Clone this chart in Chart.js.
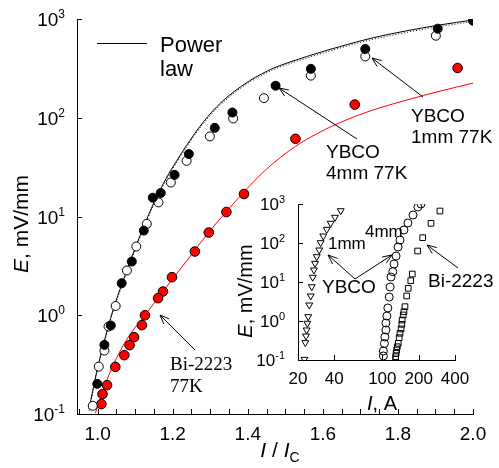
<!DOCTYPE html>
<html>
<head>
<meta charset="utf-8">
<script src="https://cdn.jsdelivr.net/npm/chart.js@4.4.0/dist/chart.umd.min.js"></script>
<style>
  html, body { margin: 0; padding: 0; background: #fff; }
  #wrap { position: relative; width: 499px; height: 468px; }
  #main { position: absolute; left: 0; top: 0; }
  #inset { position: absolute; left: 230px; top: 188px; }
</style>
</head>
<body>
<div id="wrap">
  <canvas id="main" width="499" height="468"></canvas>
  <canvas id="inset" width="269" height="230"></canvas>
</div>
<script>
// ---- main plot data (E vs I/Ic) ----
const ybco4mmX = [2.0, 1.906, 1.713, 1.568, 1.474, 1.359, 1.312, 1.243, 1.205, 1.168, 1.147, 1.123, 1.091, 1.064, 1.035, 1.018, 0.999];
const ybco4mmE = [961, 798, 497, 313, 211, 113, 79, 42.9, 26.4, 17.3, 15.5, 7.2, 3.5, 2.11, 0.787, 0.501, 0.202];

const ybco1mmX = [1.901, 1.713, 1.568, 1.443, 1.361, 1.299, 1.237, 1.195, 1.162, 1.131, 1.103, 1.078, 1.048, 1.029, 1.018, 1.003, 0.987];
const ybco1mmE = [677, 418, 267, 158, 98.4, 64.7, 36.6, 22.1, 13.9, 8.43, 4.97, 2.84, 1.24, 0.769, 0.439, 0.302, 0.121];

const bi2223X = [1.959, 1.685, 1.527, 1.390, 1.343, 1.296, 1.259, 1.198, 1.174, 1.161, 1.126, 1.118, 1.097, 1.085, 1.071, 1.047, 1.025, 1.013, 1.010];
const bi2223E = [319, 136, 61.2, 16.9, 11.1, 6.88, 4.42, 2.43, 1.74, 1.49, 1.00, 0.794, 0.600, 0.498, 0.394, 0.300, 0.196, 0.159, 0.126];

// power law fits
const powerYbcoX = [0.977, 0.997, 1.014, 1.041, 1.067, 1.094, 1.125, 1.15, 1.183, 1.21, 1.237, 1.272, 1.317, 1.361, 1.405, 1.436, 1.467, 1.557, 1.645, 1.734, 1.823, 1.912, 2.0];
const powerYbcoE = [0.112, 0.263, 0.484, 1.13, 2.19, 4.17, 8.32, 13.8, 24.5, 36.3, 52.5, 81.3, 129, 181, 237, 277, 316, 417, 525, 646, 759, 871, 977];
const powerYbco2E = [0.108, 0.254, 0.467, 1.09, 2.11, 4.02, 8.03, 13.3, 23.6, 35.0, 50.7, 78.5, 124, 175, 229, 267, 305, 402, 507, 623, 732, 840, 943];

const powerBiX = [0.994, 1.032, 1.077, 1.130, 1.183, 1.237, 1.296, 1.343, 1.390, 1.450, 1.527, 1.585, 1.645, 1.734, 1.823, 1.912, 2.0];
const powerBiE = [0.102, 0.259, 0.564, 1.047, 1.93, 3.55, 6.92, 11.2, 17.8, 30.2, 51.3, 69.2, 89.1, 120, 151, 186, 224];

const mainXTicks = [1.0, 1.2, 1.4, 1.6, 1.8, 2.0];
const decadeTicks = [0.1, 1, 10, 100, 1000];

// ---- inset data (E vs I, A) ----
const inset1mmI = [45.2, 40.5, 37.3, 34.6, 32.4, 30.8, 30.0, 28.6, 27.7, 27.1, 26.5, 26.0, 25.5, 24.8, 24.3, 23.9, 23.6, 23.3, 23.0, 22.6];
const inset1mmE = [673, 456, 320, 224, 151, 102, 66.2, 44.6, 30.1, 20.3, 13.2, 7.57, 4.38, 2.57, 1.29, 0.873, 0.588, 0.412, 0.278, 0.104];

const inset4mmI = [209, 197, 179.5, 163, 151, 140, 135, 130, 125, 122, 118, 116, 114, 111, 109, 107, 107, 105, 104, 102, 102];
const inset4mmE = [1000, 838, 522, 326, 215, 119, 78.9, 46.4, 28.9, 18.4, 13.4, 7.44, 4.12, 2.16, 1.34, 0.889, 0.588, 0.389, 0.265, 0.170, 0.127];

const insetBiI = [300, 253, 216, 196, 177, 172, 164, 159, 154, 151, 149, 146, 145, 143, 140, 138, 135.5, 133, 131.5, 130, 129, 129];
const insetBiE = [662, 320, 137, 62.4, 16.0, 10.8, 6.89, 4.38, 2.33, 1.73, 1.43, 1.06, 0.823, 0.624, 0.484, 0.373, 0.268, 0.219, 0.180, 0.149, 0.122, 0.104];

const insetXTicks = [20, 40, 100, 200, 400];

const SANS = '"Liberation Sans", Arial, sans-serif';
const SERIF = '"Liberation Serif", "Times New Roman", serif';

function pts(xs, ys) {
  return xs.map((x, i) => ({ x: x, y: ys[i] }));
}

function richText(ctx, parts, x, y, align) {
  let w = 0;
  parts.forEach(p => { ctx.font = p[1]; w += ctx.measureText(p[0]).width; });
  let cx = align === 'center' ? x - w / 2 : (align === 'right' ? x - w : x);
  ctx.textAlign = 'left';
  ctx.textBaseline = 'alphabetic';
  parts.forEach(p => {
    ctx.font = p[1];
    ctx.fillText(p[0], cx, y + (p[2] || 0));
    cx += ctx.measureText(p[0]).width;
  });
}

function arrow(ctx, x1, y1, x2, y2) {
  const a = Math.atan2(y2 - y1, x2 - x1);
  const L = 10, s = 0.38;
  ctx.beginPath();
  ctx.moveTo(x1, y1); ctx.lineTo(x2, y2);
  ctx.moveTo(x2 - L * Math.cos(a - s), y2 - L * Math.sin(a - s));
  ctx.lineTo(x2, y2);
  ctx.lineTo(x2 - L * Math.cos(a + s), y2 - L * Math.sin(a + s));
  ctx.stroke();
}

function decadeLabel(ctx, v, x, y, big, small, rise) {
  const e = Math.round(Math.log10(v));
  richText(ctx, [['10', big + 'px ' + SANS, 0], [String(e), small + 'px ' + SANS, -rise]], x, y, 'right');
}

const mainDecor = {
  id: 'mainDecor',
  afterDraw(chart) {
    const ctx = chart.ctx;
    const xs = chart.scales.x, ys = chart.scales.y;
    const area = chart.chartArea;
    ctx.save();
    ctx.strokeStyle = '#000';
    ctx.fillStyle = '#000';
    ctx.lineWidth = 1;
    // inward ticks
    ctx.beginPath();
    for (let k = 19; k <= 40; k++) {
      const px = Math.round(xs.getPixelForValue(k * 0.05)) + 0.5;
      ctx.moveTo(px, area.bottom); ctx.lineTo(px, area.bottom - 5);
    }
    decadeTicks.forEach(v => {
      const py = Math.round(ys.getPixelForValue(v)) + 0.5;
      ctx.moveTo(area.left, py); ctx.lineTo(area.left + 5, py);
    });
    ctx.stroke();
    // y tick labels
    decadeTicks.forEach(v => {
      decadeLabel(ctx, v, area.left - 12, ys.getPixelForValue(v) + 7, 19, 12, 8);
    });
    // axis titles
    ctx.save();
    ctx.translate(28, 224);
    ctx.rotate(-Math.PI / 2);
    richText(ctx, [['E', 'italic 21px ' + SANS], [', mV/mm', '21px ' + SANS]], 0, 0, 'center');
    ctx.restore();
    richText(ctx, [['I', 'italic 21px ' + SANS], [' / ', '21px ' + SANS], ['I', 'italic 21px ' + SANS], ['C', '14px ' + SANS, 5]], 280, 457, 'center');
    // legend
    ctx.beginPath();
    ctx.moveTo(97, 43.5); ctx.lineTo(147, 43.5);
    ctx.stroke();
    ctx.font = '22px ' + SANS;
    ctx.textAlign = 'left';
    ctx.fillText('Power', 160, 52);
    ctx.fillText('law', 160, 76);
    // annotations
    ctx.font = '19px ' + SANS;
    ctx.fillText('YBCO', 326, 158);
    ctx.fillText('4mm 77K', 326, 179);
    ctx.fillText('YBCO', 411, 122);
    ctx.fillText('1mm 77K', 411, 143);
    ctx.font = '19px ' + SERIF;
    ctx.fillText('Bi-2223', 170, 370);
    ctx.fillText('77K', 170, 392);
    arrow(ctx, 357, 139, 279, 88);
    arrow(ctx, 423, 97, 372, 58);
    arrow(ctx, 195, 350, 160, 315);
    ctx.restore();
  }
};

const insetDecor = {
  id: 'insetDecor',
  afterDraw(chart) {
    const ctx = chart.ctx;
    const xs = chart.scales.x, ys = chart.scales.y;
    const area = chart.chartArea;
    ctx.save();
    ctx.strokeStyle = '#000';
    ctx.fillStyle = '#000';
    ctx.lineWidth = 1;
    ctx.beginPath();
    insetXTicks.forEach(v => {
      const px = Math.round(xs.getPixelForValue(v)) + 0.5;
      ctx.moveTo(px, area.bottom); ctx.lineTo(px, area.bottom - 5);
    });
    decadeTicks.forEach(v => {
      const py = Math.round(ys.getPixelForValue(v)) + 0.5;
      ctx.moveTo(area.left, py); ctx.lineTo(area.left + 5, py);
    });
    ctx.stroke();
    decadeTicks.forEach(v => {
      decadeLabel(ctx, v, area.left - 13, ys.getPixelForValue(v) + 6, 17, 11, 7);
    });
    // offsets: canvas origin is (230,188) on the page
    ctx.save();
    ctx.translate(252 - 230, 291 - 188);
    ctx.rotate(-Math.PI / 2);
    richText(ctx, [['E', 'italic 20px ' + SANS], [', mV/mm', '20px ' + SANS]], 0, 0, 'center');
    ctx.restore();
    richText(ctx, [['I', 'italic 20px ' + SANS], [', A', '20px ' + SANS]], 382 - 230, 410 - 188, 'center');
    ctx.font = '17px ' + SANS;
    ctx.textAlign = 'left';
    ctx.fillText('1mm', 328 - 230, 249 - 188);
    ctx.fillText('4mm', 365 - 230, 237 - 188);
    ctx.font = '19px ' + SANS;
    ctx.fillText('YBCO', 322 - 230, 293 - 188);
    ctx.fillText('Bi-2223', 428 - 230, 287 - 188);
    arrow(ctx, 355 - 230, 279 - 188, 328 - 230, 255 - 188);
    arrow(ctx, 355 - 230, 279 - 188, 392 - 230, 255 - 188);
    arrow(ctx, 458 - 230, 268 - 188, 427 - 230, 245 - 188);
    ctx.restore();
  }
};

const mainChart = new Chart(document.getElementById('main'), {
  type: 'scatter',
  data: {
    datasets: [
      { label: 'YBCO 4mm', data: pts(ybco4mmX, ybco4mmE), pointRadius: 4.5, backgroundColor: '#000', borderColor: '#000', borderWidth: 1 },
      { label: 'YBCO 1mm', data: pts(ybco1mmX, ybco1mmE), pointRadius: 4.5, backgroundColor: '#fff', borderColor: '#000', borderWidth: 1 },
      { label: 'Bi-2223', data: pts(bi2223X, bi2223E), pointRadius: 4.8, backgroundColor: '#ff0000', borderColor: '#000', borderWidth: 1 },
      { label: 'fit', data: pts(powerYbcoX, powerYbcoE), showLine: true, pointRadius: 0, borderColor: '#000', borderWidth: 1, cubicInterpolationMode: 'monotone' },
      { label: 'fit2', data: pts(powerYbcoX, powerYbco2E), showLine: true, pointRadius: 0, borderColor: '#000', borderWidth: 1, borderDash: [1, 2], cubicInterpolationMode: 'monotone' },
      { label: 'fit Bi', data: pts(powerBiX, powerBiE), showLine: true, pointRadius: 0, borderColor: '#ff0000', borderWidth: 1, cubicInterpolationMode: 'monotone' }
    ]
  },
  options: {
    responsive: false,
    animation: false,
    events: [],
    layout: { padding: { left: 0, top: 19, right: 26, bottom: 0 } },
    plugins: { legend: { display: false }, tooltip: { enabled: false } },
    scales: {
      x: {
        type: 'linear', min: 0.945, max: 2.0,
        afterBuildTicks: s => { s.ticks = mainXTicks.map(v => ({ value: v })); },
        afterFit: s => { s.height = 54; },
        grid: { display: false, drawTicks: false },
        border: { display: true, color: '#000', width: 1 },
        ticks: { color: '#000', font: { family: SANS, size: 19 }, padding: 9, maxRotation: 0, callback: v => Number(v).toFixed(1) }
      },
      y: {
        type: 'logarithmic', min: 0.1, max: 1000,
        afterBuildTicks: s => { s.ticks = decadeTicks.map(v => ({ value: v })); },
        afterFit: s => { s.width = 77; },
        grid: { display: false, drawTicks: false },
        border: { display: true, color: '#000', width: 1 },
        ticks: { display: false }
      }
    }
  },
  plugins: [mainDecor]
});

const insetChart = new Chart(document.getElementById('inset'), {
  type: 'scatter',
  data: {
    datasets: [
      { label: '1mm', data: pts(inset1mmI, inset1mmE), pointStyle: 'triangle', rotation: 180, pointRadius: 4, backgroundColor: 'rgba(0,0,0,0)', borderColor: '#000', borderWidth: 1 },
      { label: '4mm', data: pts(inset4mmI, inset4mmE), pointStyle: 'circle', pointRadius: 4, backgroundColor: 'rgba(0,0,0,0)', borderColor: '#000', borderWidth: 1 },
      { label: 'Bi', data: pts(insetBiI, insetBiE), pointStyle: 'rect', pointRadius: 4, backgroundColor: 'rgba(0,0,0,0)', borderColor: '#000', borderWidth: 1 }
    ]
  },
  options: {
    responsive: false,
    animation: false,
    events: [],
    layout: { padding: { left: 0, top: 16, right: 44, bottom: 0 } },
    plugins: { legend: { display: false }, tooltip: { enabled: false } },
    scales: {
      x: {
        type: 'logarithmic', min: 20, max: 400,
        afterBuildTicks: s => { s.ticks = insetXTicks.map(v => ({ value: v })); },
        afterFit: s => { s.height = 58; },
        grid: { display: false, drawTicks: false },
        border: { display: true, color: '#000', width: 1 },
        ticks: { color: '#000', font: { family: SANS, size: 17 }, padding: 9, maxRotation: 0, autoSkip: false, callback: v => String(v) }
      },
      y: {
        type: 'logarithmic', min: 0.1, max: 1000,
        afterBuildTicks: s => { s.ticks = decadeTicks.map(v => ({ value: v })); },
        afterFit: s => { s.width = 68; },
        grid: { display: false, drawTicks: false },
        border: { display: true, color: '#000', width: 1 },
        ticks: { display: false }
      }
    }
  },
  plugins: [insetDecor]
});
</script>
</body>
</html>
